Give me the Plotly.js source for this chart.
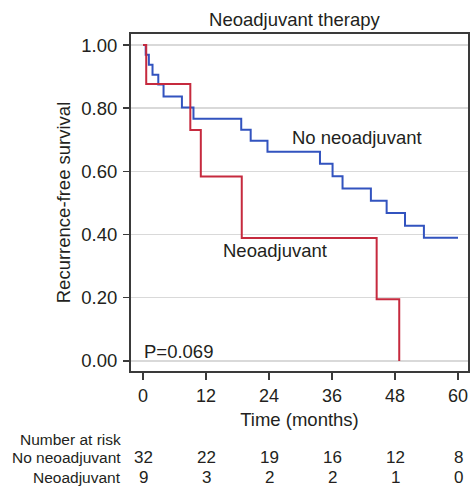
<!DOCTYPE html>
<html>
<head>
<meta charset="utf-8">
<script src="https://cdn.plot.ly/plotly-3.0.1.min.js"></script>
<style>html,body{margin:0;padding:0;background:#fff;}#chart{width:470px;height:486px;}</style>
</head>
<body>
<div id="chart"></div>
<script>
// Kaplan-Meier step data
const noNeoTime = [0, 0.5, 1.1, 1.8, 2.9, 3.9, 7.4, 9.6, 18.7, 20.5, 23.7, 33.7, 36.1, 38.0, 43.4, 46.4, 49.9, 53.5, 60];
const noNeoSurv = [1, 0.969, 0.938, 0.906, 0.875, 0.837, 0.802, 0.767, 0.732, 0.697, 0.662, 0.624, 0.585, 0.546, 0.507, 0.468, 0.428, 0.390, 0.390];
const neoTime = [0, 0.6, 9.0, 11.0, 18.8, 44.5, 48.8];
const neoSurv = [1, 0.877, 0.731, 0.584, 0.389, 0.195, 0.0];

const xTicks = [0, 12, 24, 36, 48, 60];
const yTicks = [0, 0.2, 0.4, 0.6, 0.8, 1.0];
const riskNoNeo = [32, 22, 19, 16, 12, 8];
const riskNeo = [9, 3, 2, 2, 1, 0];
const groupNames = ['No neoadjuvant', 'Neoadjuvant'];

const FONT = '"Liberation Sans", Arial, Helvetica, sans-serif';
const TXT = '#231f20';

const traces = [
  {x: noNeoTime, y: noNeoSurv, mode: 'lines', line: {shape: 'hv', color: '#3253bf', width: 2}, name: groupNames[0], hoverinfo: 'skip'},
  {x: neoTime, y: neoSurv, mode: 'lines', line: {shape: 'hv', color: '#c62a3e', width: 2}, name: groupNames[1], hoverinfo: 'skip'}
];

function rowY(px) { return (371 - px) / 337; }

const ann = [
  {x: 27.9, y: 0.707, xref: 'x', yref: 'y', text: groupNames[0], showarrow: false, xanchor: 'left', yanchor: 'middle', font: {size: 18.5, color: TXT, family: FONT}},
  {x: 14.8, y: 0.351, xref: 'x', yref: 'y', text: groupNames[1], showarrow: false, xanchor: 'left', yanchor: 'middle', font: {size: 18.5, color: TXT, family: FONT}},
  {x: -0.3, y: 0.030, xref: 'x', yref: 'y', text: 'P=0.069', showarrow: false, xanchor: 'left', yanchor: 'middle', font: {size: 18.5, color: TXT, family: FONT}},
  {x: -8/337, y: rowY(439), xref: 'paper', yref: 'paper', text: 'Number at risk', showarrow: false, xanchor: 'right', yanchor: 'middle', font: {size: 15.5, color: TXT, family: FONT}},
  {x: -8/337, y: rowY(457), xref: 'paper', yref: 'paper', text: groupNames[0], showarrow: false, xanchor: 'right', yanchor: 'middle', font: {size: 15.5, color: TXT, family: FONT}},
  {x: -8/337, y: rowY(477), xref: 'paper', yref: 'paper', text: groupNames[1], showarrow: false, xanchor: 'right', yanchor: 'middle', font: {size: 15.5, color: TXT, family: FONT}}
];
xTicks.forEach((t, i) => {
  ann.push({x: t, y: rowY(457), xref: 'x', yref: 'paper', text: String(riskNoNeo[i]), showarrow: false, xanchor: 'center', yanchor: 'middle', font: {size: 17, color: TXT, family: FONT}});
  ann.push({x: t, y: rowY(477), xref: 'x', yref: 'paper', text: String(riskNeo[i]), showarrow: false, xanchor: 'center', yanchor: 'middle', font: {size: 17, color: TXT, family: FONT}});
});

const layout = {
  width: 470, height: 486,
  margin: {l: 131, r: 2, t: 34, b: 115, pad: 0},
  paper_bgcolor: '#fff', plot_bgcolor: '#fff',
  showlegend: false,
  font: {family: FONT, color: TXT, size: 17},
  title: {text: 'Neoadjuvant therapy', x: 0.485, xref: 'paper', xanchor: 'center', y: 1 - 20/486, yref: 'container', yanchor: 'middle', font: {size: 18.5, color: TXT, family: FONT}},
  xaxis: {
    range: [-2.3, 61.9], tickvals: xTicks, ticktext: xTicks.map(String),
    ticks: 'outside', ticklen: 7, tickwidth: 1.5, tickcolor: '#3a3a3a',
    showgrid: false, zeroline: false, showline: true, mirror: true, linewidth: 2, linecolor: '#3a3a3a',
    tickfont: {size: 18, color: TXT, family: FONT},
    title: {text: 'Time (months)', font: {size: 18.5, color: TXT, family: FONT}, standoff: 8}
  },
  yaxis: {
    range: [-0.032, 1.035], tickvals: yTicks, ticktext: yTicks.map(v => v.toFixed(2)),
    ticks: 'outside', ticklen: 6, tickwidth: 1.5, tickcolor: '#3a3a3a',
    ticklabelstandoff: 2,
    showgrid: true, gridcolor: '#d9d9d9', gridwidth: 1.5, zeroline: false,
    showline: true, mirror: true, linewidth: 2, linecolor: '#3a3a3a',
    tickfont: {size: 18.5, color: TXT, family: FONT},
    title: {text: 'Recurrence-free survival', font: {size: 18.5, color: TXT, family: FONT}, standoff: 6}
  },
  annotations: ann
};

Plotly.newPlot('chart', traces, layout, {displayModeBar: false, staticPlot: true});
</script>
</body>
</html>
